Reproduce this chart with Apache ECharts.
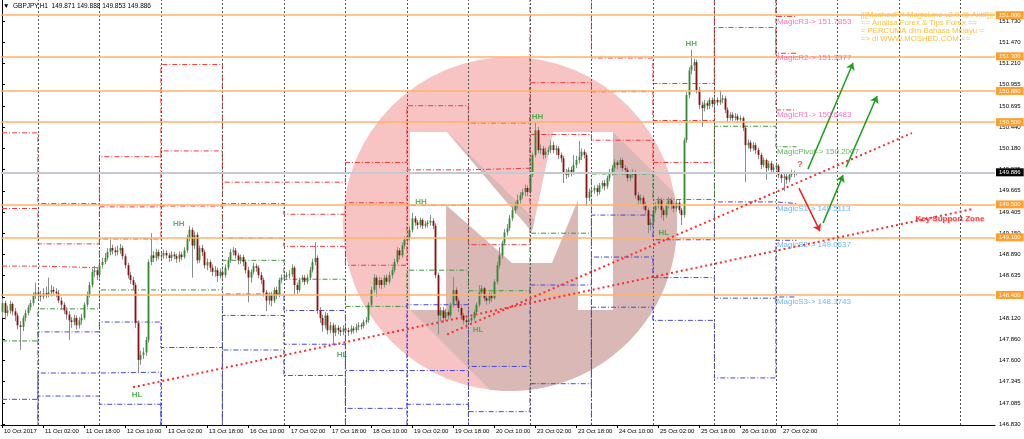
<!DOCTYPE html>
<html><head><meta charset="utf-8">
<script src="https://cdn.jsdelivr.net/npm/echarts@6/dist/echarts.min.js"></script>
<style>html,body{margin:0;padding:0;background:#fff}#c{width:1024px;height:439px}</style>
</head><body><div id="c"></div>
<script>
// ---------- DATA ----------
const xLabels = ["10 Oct 2017","11 Oct 02:00","11 Oct 18:00","12 Oct 10:00","13 Oct 02:00","13 Oct 18:00","16 Oct 10:00","17 Oct 02:00","17 Oct 18:00","18 Oct 10:00","19 Oct 02:00","19 Oct 18:00","20 Oct 10:00","23 Oct 02:00","23 Oct 18:00","24 Oct 10:00","25 Oct 02:00","25 Oct 18:00","26 Oct 10:00","27 Oct 02:00"];
const yTicks = [146.830,147.085,147.345,147.600,147.860,148.120,148.375,148.635,148.890,149.150,149.405,149.665,149.925,150.180,150.440,150.695,150.955,151.210,151.470,151.730];
const keyLevels = [151.800,151.300,150.880,150.500,149.500,149.100,148.400];
const bidPrice = 149.886;
// OHLC rows: [open, close, low, high], one per H1 bar from 10 Oct 10:00
const candles = [
// 10 Oct
[148.19,148.30,148.12,148.36],[148.30,148.18,148.10,148.33],[148.18,148.21,148.14,148.27],[148.21,148.29,148.17,148.33],[148.29,148.20,148.15,148.31],[148.20,148.15,148.08,148.24],[148.15,148.03,147.98,148.18],[148.03,148.01,147.73,148.08],[148.01,148.12,147.96,148.15],[148.12,148.18,148.08,148.22],[148.18,148.25,148.15,148.28],[148.25,148.30,148.21,148.34],[148.30,148.39,148.27,148.43],[148.39,148.43,148.35,148.55],
// 11 Oct
[148.43,148.40,148.33,148.47],[148.40,148.38,148.32,148.45],[148.38,148.42,148.35,148.48],[148.42,148.40,148.36,148.50],[148.40,148.43,148.37,148.61],[148.43,148.46,148.38,148.52],[148.46,148.44,148.39,148.50],[148.44,148.42,148.37,148.48],[148.42,148.33,148.30,148.46],[148.33,148.28,148.22,148.37],[148.28,148.21,148.17,148.31],[148.21,148.16,148.10,148.25],[148.16,148.09,147.85,148.20],[148.09,148.07,148.00,148.13],[148.07,148.12,148.03,148.16],[148.12,148.03,147.98,148.15],[148.03,148.09,147.99,148.13],[148.09,148.12,148.04,148.17],[148.12,148.28,148.10,148.31],[148.28,148.40,148.25,148.44],[148.40,148.52,148.37,148.56],[148.52,148.68,148.49,148.72],[148.68,148.70,148.62,148.75],[148.70,148.64,148.58,148.74],
// 12 Oct
[148.64,148.76,148.60,148.80],[148.76,148.80,148.72,148.85],[148.80,148.85,148.77,148.91],[148.85,148.92,148.82,148.97],[148.92,148.97,148.88,149.07],[148.97,148.94,148.89,149.01],[148.94,148.92,148.87,148.98],[148.92,148.94,148.88,149.00],[148.94,148.97,148.90,149.02],[148.97,148.87,148.83,149.00],[148.87,148.76,148.72,148.90],[148.76,148.64,148.60,148.79],[148.64,148.58,148.53,148.68],[148.58,148.52,148.47,148.62],[148.52,148.06,148.00,148.55],[148.06,147.61,147.46,148.09],[147.61,147.67,147.55,147.72],[147.67,147.70,147.62,147.76],[147.70,147.85,147.66,147.89],[147.85,148.80,147.82,148.83],[148.80,148.88,148.76,149.15],[148.88,148.85,148.80,148.93],[148.85,148.92,148.81,148.96],[148.92,148.87,148.83,148.95],
// 13 Oct
[148.87,148.88,148.83,148.93],[148.88,148.91,148.84,148.95],[148.91,148.88,148.84,148.94],[148.88,148.85,148.80,148.91],[148.85,148.89,148.81,148.93],[148.89,148.87,148.83,148.92],[148.87,148.84,148.79,148.90],[148.84,148.89,148.80,148.93],[148.89,148.86,148.82,148.92],[148.86,148.94,148.84,148.98],[148.94,149.09,148.91,149.13],[149.09,149.19,149.05,149.24],[149.19,149.00,148.61,149.22],[149.00,149.13,148.96,149.17],[149.13,148.82,148.78,149.16],[148.82,148.97,148.79,149.00],[148.97,148.92,148.87,149.01],[148.92,148.76,148.72,148.95],[148.76,148.80,148.70,148.84],[148.80,148.73,148.68,148.83],[148.73,148.68,148.63,148.77],[148.68,148.70,148.62,148.75],[148.70,148.63,148.56,148.73],[148.63,148.68,148.60,148.72],
// 16 Oct
[148.68,148.64,148.59,148.72],[148.64,148.73,148.61,148.77],[148.73,148.82,148.70,148.86],[148.82,148.92,148.79,148.96],[148.92,148.94,148.88,148.98],[148.94,148.88,148.84,148.97],[148.88,148.82,148.77,148.91],[148.82,148.86,148.78,148.89],[148.86,148.80,148.75,148.89],[148.80,148.70,148.66,148.83],[148.70,148.61,148.31,148.74],[148.61,148.68,148.55,148.71],[148.68,148.75,148.65,148.79],[148.75,148.73,148.68,148.78],[148.73,148.64,148.60,148.76],[148.64,148.58,148.53,148.68],[148.58,148.43,148.38,148.61],[148.43,148.33,148.20,148.46],[148.33,148.40,148.28,148.43],[148.40,148.33,148.26,148.44],[148.33,148.46,148.30,148.49],[148.46,148.40,148.35,148.50],[148.40,148.58,148.37,148.61],[148.58,148.61,148.54,148.65],
// 17 Oct
[148.61,148.62,148.57,148.66],[148.62,148.64,148.58,148.68],[148.64,148.65,148.60,148.70],[148.65,148.73,148.62,148.77],[148.73,148.52,148.40,148.75],[148.52,148.46,148.41,148.55],[148.46,148.58,148.43,148.61],[148.58,148.61,148.55,148.64],[148.61,148.56,148.52,148.64],[148.56,148.61,148.53,148.65],[148.61,148.70,148.58,148.74],[148.70,148.80,148.67,148.84],[148.80,148.85,148.76,149.04],[148.85,148.21,148.17,148.88],[148.21,148.12,148.06,148.25],[148.12,148.03,147.95,148.16],[148.03,148.15,147.99,148.19],[148.15,147.97,147.92,148.18],[147.97,148.03,147.93,148.07],[148.03,147.94,147.79,148.06],[147.94,148.00,147.90,148.04],[148.00,147.97,147.92,148.03],[147.97,147.95,147.90,148.01],[147.95,147.99,147.91,148.03],
// 18 Oct
[147.99,147.97,147.92,148.02],[147.97,147.95,147.90,148.00],[147.95,147.99,147.92,148.03],[147.99,147.97,147.93,148.02],[147.97,148.01,147.94,148.05],[148.01,148.03,147.97,148.07],[148.03,148.02,147.98,148.06],[148.02,148.07,147.99,148.10],[148.07,148.09,148.04,148.13],[148.09,148.28,148.06,148.31],[148.28,148.46,148.25,148.50],[148.46,148.61,148.43,148.65],[148.61,148.52,148.38,148.64],[148.52,148.58,148.48,148.62],[148.58,148.52,148.47,148.61],[148.52,148.61,148.49,148.64],[148.61,148.56,148.52,148.65],[148.56,148.64,148.53,148.68],[148.64,148.70,148.60,148.74],[148.70,148.80,148.67,148.84],[148.80,148.94,148.77,148.98],[148.94,148.88,148.83,148.97],[148.88,149.00,148.85,149.04],[149.00,149.07,148.96,149.11],
// 19 Oct
[149.07,149.09,149.03,149.13],[149.09,149.19,149.06,149.23],[149.19,149.33,149.16,149.40],[149.33,149.28,149.24,149.36],[149.28,149.25,149.20,149.31],[149.25,149.31,149.22,149.34],[149.31,149.24,149.20,149.33],[149.24,149.26,149.21,149.30],[149.26,149.28,149.22,149.31],[149.28,149.30,149.24,149.37],[149.30,149.24,149.20,149.33],[149.24,148.64,148.60,149.27],[148.64,148.15,147.92,148.67],[148.15,148.21,148.08,148.25],[148.21,148.12,148.06,148.25],[148.12,148.19,148.08,148.23],[148.19,148.15,148.10,148.22],[148.15,148.28,148.12,148.31],[148.28,148.46,148.25,148.62],[148.46,148.33,148.28,148.49],[148.33,148.24,148.19,148.36],[148.24,148.15,148.10,148.27],[148.15,148.09,148.04,148.18],[148.09,148.07,147.99,148.12],
// 20 Oct
[148.07,148.09,148.03,148.13],[148.09,148.12,148.05,148.16],[148.12,148.19,148.09,148.22],[148.19,148.28,148.16,148.31],[148.28,148.43,148.25,148.52],[148.43,148.48,148.38,148.52],[148.48,148.36,148.32,148.50],[148.36,148.33,148.28,148.40],[148.33,148.40,148.29,148.43],[148.40,148.36,148.31,148.43],[148.36,148.56,148.34,148.59],[148.56,148.76,148.53,148.80],[148.76,148.88,148.72,148.98],[148.88,149.03,148.84,149.06],[149.03,149.16,149.00,149.20],[149.16,149.21,149.12,149.26],[149.21,149.33,149.18,149.37],[149.33,149.43,149.30,149.47],[149.43,149.49,149.39,149.53],[149.49,149.55,149.45,149.62],[149.55,149.61,149.51,149.65],[149.61,149.65,149.57,149.69],[149.65,149.70,149.60,149.74],[149.70,149.65,149.60,149.73],
// 23 Oct
[149.65,149.86,149.62,149.89],[149.86,150.10,149.83,150.13],[150.10,150.40,150.07,150.49],[150.40,150.16,150.12,150.44],[150.16,150.18,150.11,150.23],[150.18,150.10,150.05,150.21],[150.10,150.14,150.06,150.19],[150.14,150.16,150.10,150.20],[150.16,150.22,150.12,150.28],[150.22,150.16,150.12,150.26],[150.16,150.18,150.10,150.22],[150.18,150.10,150.05,150.21],[150.10,150.06,150.01,150.13],[150.06,149.89,149.76,150.09],[149.89,149.86,149.81,149.93],[149.86,149.92,149.83,149.95],[149.92,149.89,149.84,149.96],[149.89,149.98,149.86,150.10],[149.98,150.04,149.94,150.09],[150.04,150.08,150.00,150.27],[150.08,150.14,150.04,150.18],[150.14,150.10,150.06,150.17],[150.10,149.58,149.48,150.13],[149.58,149.65,149.54,149.69],
// 24 Oct
[149.65,149.67,149.61,149.71],[149.67,149.70,149.63,149.73],[149.70,149.65,149.60,149.74],[149.65,149.73,149.62,149.76],[149.73,149.76,149.69,149.79],[149.76,149.72,149.67,149.80],[149.72,149.82,149.69,149.85],[149.82,149.89,149.78,149.93],[149.89,149.94,149.85,149.98],[149.94,150.01,149.90,150.05],[150.01,149.98,149.93,150.04],[149.98,150.04,149.94,150.07],[150.04,149.94,149.90,150.06],[149.94,149.92,149.86,149.98],[149.92,149.82,149.78,149.95],[149.82,149.86,149.78,149.90],[149.86,149.89,149.82,149.93],[149.89,149.61,149.57,149.92],[149.61,149.55,149.50,149.65],[149.55,149.58,149.51,149.62],[149.58,149.49,149.44,149.61],[149.49,149.43,149.38,149.53],[149.43,149.25,149.15,149.46],[149.25,149.28,149.18,149.33],
// 25 Oct
[149.28,149.43,149.25,149.47],[149.43,149.49,149.39,149.53],[149.49,149.55,149.45,149.59],[149.55,149.43,149.33,149.58],[149.43,149.37,149.30,149.46],[149.37,149.49,149.34,149.52],[149.49,149.55,149.45,149.59],[149.55,149.49,149.44,149.58],[149.49,149.45,149.40,149.52],[149.45,149.52,149.41,149.56],[149.52,149.43,149.39,149.55],[149.43,149.37,149.25,149.46],[149.37,150.28,149.34,150.31],[150.28,150.83,150.25,150.87],[150.83,151.13,150.79,151.17],[151.13,151.19,151.08,151.38],[151.19,151.23,151.12,151.27],[151.23,150.89,150.85,151.26],[150.89,150.71,150.66,150.93],[150.71,150.67,150.44,150.75],[150.67,150.73,150.63,150.77],[150.73,150.70,150.65,150.76],[150.70,150.77,150.66,150.80],[150.77,150.72,150.68,150.80],
// 26 Oct
[150.72,150.77,150.68,150.81],[150.77,150.74,150.70,150.80],[150.74,150.77,150.71,150.89],[150.77,150.79,150.73,150.83],[150.79,150.65,150.61,150.82],[150.65,150.55,150.50,150.68],[150.55,150.59,150.52,150.62],[150.59,150.55,150.51,150.62],[150.55,150.57,150.52,150.61],[150.57,150.53,150.49,150.60],[150.53,150.55,150.50,150.58],[150.55,150.43,150.39,150.57],[150.43,150.22,149.77,150.46],[150.22,150.25,150.18,150.29],[150.25,150.18,150.14,150.28],[150.18,150.22,150.15,150.26],[150.22,150.16,150.11,150.25],[150.16,150.10,150.05,150.19],[150.10,149.98,149.93,150.13],[149.98,150.04,149.95,150.07],[150.04,149.94,149.80,150.06],[149.94,150.00,149.91,150.03],[150.00,149.92,149.88,150.03],[149.92,149.95,149.89,149.99],
// 27 Oct
[149.95,149.97,149.91,150.01],[149.97,149.86,149.82,149.99],[149.86,149.82,149.76,149.89],[149.82,149.84,149.66,149.88],[149.84,149.80,149.75,149.87],[149.80,149.86,149.77,149.89],[149.86,149.88,149.83,149.92],[149.88,149.871,149.83,149.91],[149.871,149.886,149.853,149.888]
];
// daily pivot levels (MagicLine), one value per day
const dayStart = [0,14,38,62,86,110,134,158,182,206,230,254,278,302];
const lastBar = 310;
const R3 = [150.37,149.51,150.08,151.20,149.77,149.77,150.01,150.70,150.49,152.18,151.28,150.97,153.78,151.7853];
const R2 = [149.45,149.02,149.47,150.15,149.51,149.38,149.52,149.92,149.94,150.98,150.87,150.52,152.58,151.3377];
const R1 = [148.75,148.73,149.08,149.48,149.09,148.99,148.76,149.49,149.01,150.35,150.28,150.01,151.65,150.6483];
const PP = [147.84,148.23,148.46,148.46,148.82,148.59,148.26,148.70,148.45,149.15,149.87,149.56,150.45,150.2007];
const S1 = [147.13,147.95,148.07,147.76,148.41,148.21,147.48,148.28,147.53,148.52,149.37,149.07,149.53,149.5113];
const S2 = [146.22,147.45,147.46,146.77,148.15,147.80,147.02,147.48,146.98,147.32,148.86,148.61,148.36,149.0637];
const S3 = [145.51,147.17,147.07,146.10,147.73,147.42,146.26,147.07,146.05,146.69,148.25,148.09,147.39,148.3743];
// swing labels
const swingText = ["HL","HH","HL","HH","HL","HH","HL","HH"];
const swingBar  = [52.7,69,132.7,163.5,185.8,209,258.3,269];
const swingPrice= [147.18,149.27,147.67,149.53,147.97,150.57,149.16,151.45];
// trend lines [bar, price] pairs
const trendLower = [[51.1,147.277],[378.5,149.442]];
const trendUpper = [[173.7,147.92],[355.1,150.367]];
// projection arrows
const greenArrows = [[[314.5,149.929],[332.1,151.219]],[[320.4,149.272],[328.2,149.856]],[[329.4,149.953],[341.5,150.817]]];
const redArrows = [[[311.0,149.698],[319.2,149.175]]];

// ---------- CHART ----------
const chart = echarts.init(document.getElementById('c'), null, {renderer:'canvas'});
const FONT = 'Liberation Sans';
const sepIdx = []; for (let i = 14; i <= 387; i += 24) sepIdx.push(i);

function stepPts(levels){
  const pts = [];
  for (let k = 0; k < dayStart.length; k++) {
    const s = dayStart[k], e = k < dayStart.length - 1 ? dayStart[k+1] : lastBar;
    pts.push([s, levels[k]], [e, levels[k]]);
  }
  return pts;
}
function pivotSeries(levels, color){
  return {type:'line', data: stepPts(levels), symbol:'none', silent:true, z:2,
    lineStyle:{color:color, width:1, type:[5,2,1,2]}, animation:false};
}
const magicNames = ['MagicR3','MagicR2','MagicR1','MagicPivot','MagicS1','MagicS2','MagicS3'];
const magicLevels = [R3,R2,R1,PP,S1,S2,S3];
const magicColors = ['#ff4fae','#ff4fae','#ff4fae','#3aa33a','#4aa3ff','#4aa3ff','#4aa3ff'];
const last = dayStart.length - 1;

// watermark geometry
const cx = 510, cy = 224, r = 167;
const arc = [];
for (let a = 96.9; a >= -10.7; a -= 4) arc.push([cx + r*Math.cos(a*Math.PI/180), cy + r*Math.sin(a*Math.PI/180)]);
arc.push([674.1,193.1]);
const shadowPts = [[613,132],[553,132],[534.6,219.6],[447,132],[410,132],[410,310]].concat(arc);
const mPts = [[410,310],[410,132],[447,132],[532,232],[553,132],[613,132],[613,310],[578,310],[578,200],[552,263],[512,263],[446,205],[446,310]];

const option = {
  animation:false,
  backgroundColor:'#fff',
  textStyle:{fontFamily:FONT},
  grid:{left:1, right:29, top:0, bottom:14, containLabel:false},
  graphic:[
    {type:'circle', z:0, silent:true, shape:{cx:cx, cy:cy, r:r}, style:{fill:'#f7c3c3'}},
    {type:'polygon', z:0, silent:true, shape:{points:shadowPts}, style:{fill:'#d9b8b6'}},
    {type:'polygon', z:0, silent:true, shape:{points:mPts}, style:{fill:'#ffffff'}},
    {type:'text', z:10, left:3, top:3, style:{text:'\u25BC  GBPJPY,H1  149.871 149.888 149.853 149.886', fontSize:6.5, fill:'#000', fontFamily:FONT}},
    {type:'text', z:10, right:31, top:11, style:{text:'||[MoshedFX MagicLine v2.0 @ Aktif]||\n== Analisa Forex & Tips Forex ==\n= PERCUMA dlm Bahasa Melayu =\n=> di WWW.MOSHED.COM <=', fontSize:7.8, lineHeight:7.8, align:'right', fill:'#ffbf40', fontFamily:FONT}}
  ],
  xAxis:{type:'value', min:-0.4, max:387.5, splitLine:{show:false},
    axisLine:{show:true, onZero:false, lineStyle:{color:'#000', width:1}},
    axisTick:{show:true, length:3, customValues: xLabels.map((_,k)=>k*16), lineStyle:{color:'#000'}},
    axisLabel:{customValues: xLabels.map((_,k)=>k*16), formatter:(v)=>xLabels[Math.round(v/16)], align:'left', fontSize:6, color:'#000', margin:3, padding:[0,0,0,2], fontFamily:FONT}
  },
  yAxis:[{type:'value', position:'right', min:146.818, max:151.985, splitLine:{show:false},
    axisLine:{show:true, lineStyle:{color:'#000', width:1}},
    axisTick:{show:true, length:3, customValues: yTicks, lineStyle:{color:'#000'}},
    axisLabel:{customValues: yTicks, formatter:(v)=>v.toFixed(3), fontSize:6, color:'#000', margin:4, fontFamily:FONT}
  }],
  series:[
    {type:'line', data:[], silent:true, z:1,
      markLine:{symbol:'none', silent:true, label:{show:false}, lineStyle:{color:'#555', width:1, type:[2,2]},
        data: sepIdx.map(i=>({xAxis:i}))}},
    pivotSeries(R3,'#ee3b3b'), pivotSeries(R2,'#ee3b3b'), pivotSeries(R1,'#ee3b3b'),
    pivotSeries(PP,'#3a9a3a'),
    pivotSeries(S1,'#4646e6'), pivotSeries(S2,'#4646e6'), pivotSeries(S3,'#4646e6'),
    {type:'line', data:[], silent:true, z:3,
      markLine:{symbol:'none', silent:true, animation:false,
        data: keyLevels.map(v=>({yAxis:v, lineStyle:{color:'#ffb266', width:1.6, type:'solid'},
          label:{show:true, position:'end', distance:1, formatter:v.toFixed(3), backgroundColor:'#ff9f2e', color:'#fff', fontSize:6, padding:[1,3,1,3], fontFamily:FONT}}))
          .concat([{yAxis:bidPrice, lineStyle:{color:'#c5cad2', width:2, type:'solid'},
          label:{show:true, position:'end', distance:1, formatter:bidPrice.toFixed(3), backgroundColor:'#000', color:'#fff', fontSize:6, padding:[1,3,1,3], fontFamily:FONT}}])
      }},
    {type:'custom', z:4, silent:true,
      data: candles.map((c,i)=>[i, c[0], c[1], c[2], c[3]]),
      encode:{x:0, y:[1,2,3,4]},
      renderItem:function(params, api){
        const i = api.value(0), o = api.value(1), c = api.value(2), l = api.value(3), h = api.value(4);
        const pO = api.coord([i,o]), pC = api.coord([i,c]), pL = api.coord([i,l]), pH = api.coord([i,h]);
        const w = Math.max(1, api.size([1,0])[0]*0.72);
        const x = Math.round(pO[0]) + 0.5;
        const top = Math.min(pO[1], pC[1]), bot = Math.max(pO[1], pC[1]);
        return {type:'group', children:[
          {type:'line', shape:{x1:x, y1:pH[1], x2:x, y2:pL[1]}, style:{stroke:'#8c8c8c', lineWidth:1}},
          {type:'rect', shape:{x:x-w/2, y:top, width:w, height:Math.max(1, bot-top)}, style:{fill: c >= o ? '#2e8b2e' : '#8b1010'}}
        ]};
      }},
    {type:'line', data:trendLower, symbol:'none', silent:true, z:5, lineStyle:{color:'#ff2b2b', width:2, type:[2,3]}},
    {type:'line', data:trendUpper, symbol:'none', silent:true, z:5, lineStyle:{color:'#ff2b2b', width:2, type:[2,3]}},
    {type:'lines', coordinateSystem:'cartesian2d', z:6, silent:true, symbol:['none','arrow'], symbolSize:7,
      lineStyle:{color:'#1e9e1e', width:1.5, opacity:1}, data: greenArrows.map(c=>({coords:c}))},
    {type:'lines', coordinateSystem:'cartesian2d', z:6, silent:true, symbol:['none','arrow'], symbolSize:7,
      lineStyle:{color:'#ee2020', width:1.5, opacity:1}, data: redArrows.map(c=>({coords:c}))},
    {type:'scatter', z:7, silent:true, symbolSize:0,
      data: swingText.map((t,k)=>({value:[swingBar[k], swingPrice[k]], label:{show:true, position:'inside', formatter:t, color:'#36a336', fontWeight:'bold', fontSize:8, fontFamily:FONT}}))
        .concat([
          {value:[311.4,149.98], label:{show:true, position:'inside', formatter:'?', color:'#ff2020', fontWeight:'bold', fontSize:9, fontFamily:FONT}},
          {value:[369.9,149.32], label:{show:true, position:'inside', formatter:'Key Support Zone', color:'#ff1a1a', fontWeight:'bold', fontSize:8, fontFamily:FONT, textShadowColor:'rgba(120,0,0,0.35)', textShadowBlur:1, textShadowOffsetX:0.5, textShadowOffsetY:0.5}}
        ])
        .concat(magicNames.map((n,k)=>({value:[dayStart[last], magicLevels[k][last]],
          label:{show:true, position:[1,1], align:'left', verticalAlign:'top', formatter:n+'-> '+magicLevels[k][last].toFixed(4), color:magicColors[k], fontSize:8, fontFamily:FONT}})))
    }
  ]
};
chart.setOption(option);
</script>
</body></html>
